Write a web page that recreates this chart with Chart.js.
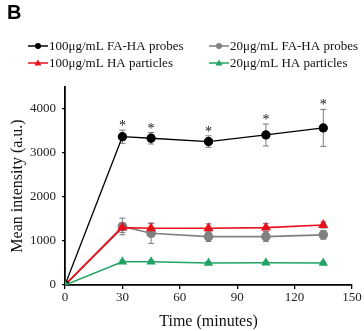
<!DOCTYPE html>
<html>
<head>
<meta charset="utf-8">
<script src="https://cdn.jsdelivr.net/npm/chart.js@4.4.1/dist/chart.umd.min.js"></script>
<style>
  html, body { margin: 0; padding: 0; background: #fff; }
  #wrap { position: relative; width: 364px; height: 331px; }
</style>
</head>
<body>
<div id="wrap"><canvas id="intensityChart" width="364" height="331"></canvas></div>
<script>
// time points (minutes)
const times = [0, 30, 45, 75, 105, 135];

// mean intensity (a.u.) per series
const faHa100 = [0, 3370, 3335, 3260, 3410, 3570];
const faHa20  = [0, 1330, 1175, 1100, 1100, 1140];
const ha100   = [0, 1305, 1290, 1290, 1305, 1365];
const ha20    = [0, 530, 530, 500, 507, 500];

// error bars (+/-)
const faHa100Err = [0, 150, 130, 130, 250, 420];
const faHa20Err  = [0, 190, 230, 110, 110, 100];
const ha100Err   = [0, 110, 110, 100, 90, 70];
const ha20Err    = [0, 30, 30, 30, 30, 30];

// points marked with a significance star
const starTimes = [30, 45, 75, 105, 135];

const yTicks = [0, 1000, 2000, 3000, 4000];

const serif = '"Liberation Serif", "Times New Roman", serif';

const toPoints = (vals) => vals.map((v, i) => ({ x: times[i], y: v }));

const series = [
  { label: '100μg/mL FA-HA probes', data: faHa100, err: faHa100Err, color: '#000000', shape: 'circle', r: 4 },
  { label: '20μg/mL FA-HA probes',  data: faHa20,  err: faHa20Err,  color: '#808080', shape: 'circle', r: 4 },
  { label: '100μg/mL HA particles', data: ha100,   err: ha100Err,   color: '#e8101c', shape: 'triangle', r: 4.3 },
  { label: '20μg/mL HA particles',  data: ha20,    err: ha20Err,    color: '#1fa463', shape: 'triangle', r: 3.8 }
];

// draw error bars + stars under the markers
const errorBarPlugin = {
  id: 'errorBars',
  beforeDatasetsDraw(chart) {
    const ctx = chart.ctx;
    const xs = chart.scales.x, ys = chart.scales.y;
    ctx.save();
    ctx.strokeStyle = '#7a7a7a';
    ctx.lineWidth = 1;
    series.forEach((s) => {
      s.data.forEach((v, i) => {
        const e = s.err[i];
        if (!e) return;
        const px = xs.getPixelForValue(times[i]);
        const top = ys.getPixelForValue(v + e);
        const bot = ys.getPixelForValue(v - e);
        ctx.beginPath();
        ctx.moveTo(px, top); ctx.lineTo(px, bot);
        ctx.moveTo(px - 3, top); ctx.lineTo(px + 3, top);
        ctx.moveTo(px - 3, bot); ctx.lineTo(px + 3, bot);
        ctx.stroke();
      });
    });
    // stars over the black series
    ctx.fillStyle = '#111';
    ctx.font = '14px ' + serif;
    ctx.textAlign = 'center';
    ctx.textBaseline = 'alphabetic';
    starTimes.forEach((t) => {
      const i = times.indexOf(t);
      const px = xs.getPixelForValue(t);
      const top = ys.getPixelForValue(faHa100[i] + faHa100Err[i]);
      ctx.fillText('*', px, top);
    });
    ctx.restore();
  }
};

// two-column legend and panel letter
const legendPlugin = {
  id: 'customLegend',
  afterDraw(chart) {
    const ctx = chart.ctx;
    const spots = [
      { x: 28, y: 46 }, { x: 209, y: 46 },
      { x: 28, y: 63 }, { x: 209, y: 63 }
    ];
    ctx.save();
    series.forEach((s, i) => {
      const p = spots[i];
      ctx.strokeStyle = s.color;
      ctx.fillStyle = s.color;
      ctx.lineWidth = 1.5;
      ctx.beginPath();
      ctx.moveTo(p.x, p.y); ctx.lineTo(p.x + 20, p.y);
      ctx.stroke();
      const cx = p.x + 10;
      ctx.beginPath();
      if (s.shape === 'circle') {
        ctx.arc(cx, p.y, 3, 0, Math.PI * 2);
      } else {
        ctx.moveTo(cx, p.y - 3.5);
        ctx.lineTo(cx + 3.5, p.y + 2.5);
        ctx.lineTo(cx - 3.5, p.y + 2.5);
        ctx.closePath();
      }
      ctx.fill();
      ctx.fillStyle = '#111';
      ctx.font = '13px ' + serif;
      ctx.textBaseline = 'middle';
      ctx.textAlign = 'left';
      ctx.fillText(s.label, p.x + 21, p.y + 1);
    });
    ctx.fillStyle = '#000';
    ctx.font = 'bold 20px "Liberation Sans", Arial, sans-serif';
    ctx.textBaseline = 'top';
    ctx.fillText('B', 7, 3);
    ctx.restore();
  }
};

const datasets = series.map((s, i) => ({
  label: s.label,
  data: toPoints(s.data),
  borderColor: s.color,
  backgroundColor: s.color,
  pointBackgroundColor: s.color,
  pointBorderColor: s.color,
  pointStyle: s.shape,
  pointRadius: s.r,
  borderWidth: i === 0 ? 1.3 : 1.6,
  tension: 0,
  order: [1, 3, 2, 0][i]
}));

new Chart(document.getElementById('intensityChart'), {
  type: 'line',
  data: { datasets },
  plugins: [errorBarPlugin, legendPlugin],
  options: {
    responsive: false,
    animation: false,
    devicePixelRatio: 1,
    layout: { padding: { top: 87, right: 12, left: 0, bottom: 0 } },
    plugins: { legend: { display: false }, tooltip: { enabled: false } },
    scales: {
      x: {
        type: 'linear',
        min: 0, max: 150,
        afterFit: (scale) => { scale.height = 46; },
        ticks: { stepSize: 30, color: '#222', font: { family: serif, size: 13 }, padding: 1 },
        grid: { display: true, drawOnChartArea: false, drawTicks: true, tickLength: 4, color: '#000', lineWidth: 1.3 },
        border: { display: true, color: '#000', width: 1.8 },
        title: { display: true, text: 'Time (minutes)', color: '#111', font: { family: serif, size: 16 }, padding: { top: 2, bottom: 0 } }
      },
      y: {
        min: 0, max: 4500,
        afterFit: (scale) => { scale.width = 65; },
        afterBuildTicks: (scale) => { scale.ticks = yTicks.map((v) => ({ value: v })); },
        ticks: { color: '#222', font: { family: serif, size: 13 }, padding: 6, callback: (v) => String(v) },
        grid: { display: true, drawOnChartArea: false, drawTicks: true, tickLength: 3, color: '#000', lineWidth: 1.3 },
        border: { display: true, color: '#000', width: 1.8 },
        title: { display: true, text: 'Mean intensity (a.u.)', color: '#111', font: { family: serif, size: 16 }, padding: { top: 8, bottom: 0 } }
      }
    }
  }
});
</script>
</body>
</html>
